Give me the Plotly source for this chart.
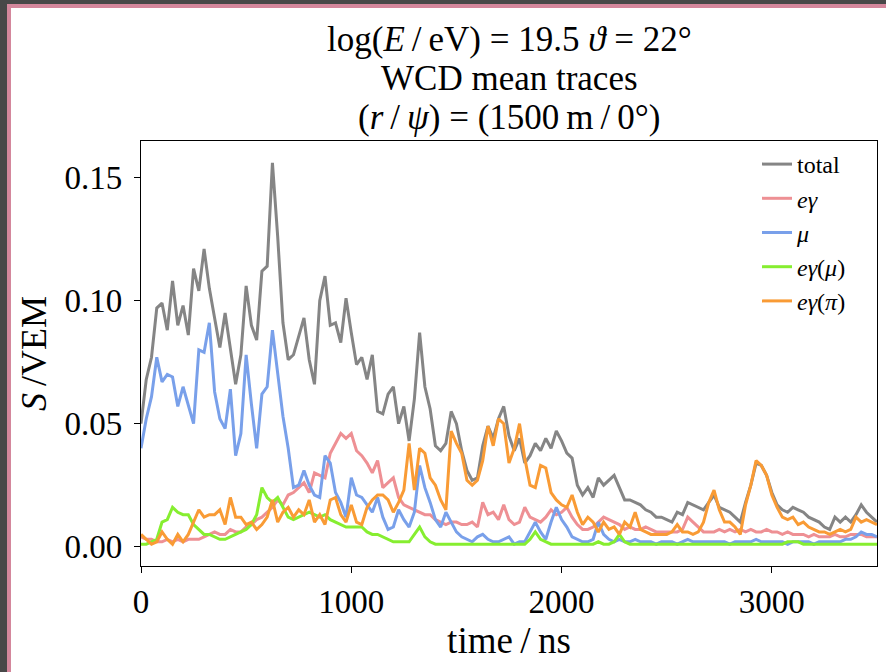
import plotly.graph_objects as go

# time grid (ns), 25 ns bins from 0 to 3500
time_ns = list(range(0, 3501, 25))

total = [
    0.050, 0.068, 0.077, 0.097, 0.099, 0.088, 0.108, 0.090, 0.098, 0.086,
    0.113, 0.104, 0.121, 0.105, 0.093, 0.081, 0.095, 0.080, 0.066, 0.078,
    0.106, 0.090, 0.084, 0.112, 0.114, 0.156, 0.126, 0.091, 0.076, 0.078,
    0.085, 0.093, 0.076, 0.066, 0.100, 0.110, 0.090, 0.091, 0.083, 0.101,
    0.087, 0.074, 0.077, 0.068, 0.078, 0.055, 0.054, 0.062, 0.065, 0.050,
    0.057, 0.043, 0.060, 0.087, 0.065, 0.056, 0.041, 0.039, 0.042, 0.055,
    0.050, 0.039, 0.031, 0.027, 0.028, 0.041, 0.049, 0.044, 0.052, 0.057,
    0.045, 0.039, 0.044, 0.034, 0.037, 0.042, 0.039, 0.044, 0.040, 0.047,
    0.043, 0.038, 0.036, 0.025, 0.021, 0.024, 0.020, 0.028, 0.025, 0.027,
    0.029, 0.024, 0.019, 0.019, 0.018, 0.017, 0.015, 0.014, 0.012, 0.012,
    0.011, 0.010, 0.014, 0.013, 0.018, 0.017, 0.016, 0.015, 0.018, 0.021,
    0.016, 0.015, 0.014, 0.012, 0.010, 0.018, 0.025, 0.034, 0.033, 0.029,
    0.022, 0.017, 0.015, 0.014, 0.016, 0.015, 0.014, 0.012, 0.011, 0.010,
    0.008, 0.007, 0.012, 0.010, 0.012, 0.010, 0.013, 0.017, 0.014, 0.012,
    0.010,
]

e_gamma = [
    0.004, 0.003, 0.003, 0.002, 0.002, 0.003, 0.002, 0.003, 0.002, 0.003,
    0.003, 0.003, 0.004, 0.005, 0.006, 0.005, 0.005, 0.007, 0.006, 0.006,
    0.008, 0.009, 0.011, 0.012, 0.014, 0.016, 0.019, 0.017, 0.021, 0.022,
    0.024, 0.026, 0.022, 0.030, 0.029, 0.028, 0.038, 0.042, 0.046, 0.044,
    0.046, 0.039, 0.037, 0.034, 0.030, 0.035, 0.024, 0.026, 0.028, 0.020,
    0.017, 0.016, 0.015, 0.014, 0.013, 0.013, 0.011, 0.010, 0.009, 0.010,
    0.010, 0.009, 0.009, 0.010, 0.008, 0.018, 0.013, 0.014, 0.011, 0.017,
    0.011, 0.009, 0.010, 0.016, 0.012, 0.011, 0.010, 0.012, 0.015, 0.013,
    0.014, 0.016, 0.012, 0.009, 0.007, 0.007, 0.008, 0.010, 0.012, 0.011,
    0.010, 0.009, 0.007, 0.008, 0.007, 0.007, 0.008, 0.007, 0.006, 0.006,
    0.006, 0.006, 0.006, 0.007, 0.012, 0.010, 0.008, 0.006, 0.006, 0.006,
    0.007, 0.006, 0.007, 0.006, 0.007, 0.006, 0.007, 0.006, 0.006, 0.007,
    0.006, 0.006, 0.005, 0.006, 0.005, 0.005, 0.005, 0.004, 0.005, 0.004,
    0.004, 0.004, 0.005, 0.004, 0.004, 0.005, 0.005, 0.005, 0.004, 0.004,
    0.004,
]

mu = [
    0.040, 0.052, 0.061, 0.077, 0.067, 0.070, 0.069, 0.057, 0.065, 0.057,
    0.050, 0.080, 0.079, 0.091, 0.063, 0.052, 0.048, 0.064, 0.037, 0.046,
    0.078, 0.058, 0.040, 0.062, 0.065, 0.088, 0.070, 0.053, 0.040, 0.024,
    0.025, 0.031, 0.025, 0.021, 0.020, 0.037, 0.034, 0.022, 0.018, 0.012,
    0.028, 0.021, 0.020, 0.017, 0.014, 0.020, 0.012, 0.007, 0.008, 0.015,
    0.011, 0.008, 0.014, 0.033, 0.024, 0.018, 0.011, 0.008, 0.014, 0.010,
    0.006, 0.004, 0.003, 0.002, 0.004, 0.005, 0.003, 0.002, 0.002, 0.003,
    0.004, 0.001, 0.002, 0.002, 0.006, 0.010, 0.006, 0.003, 0.010, 0.016,
    0.011, 0.008, 0.004, 0.003, 0.002, 0.002, 0.003, 0.010, 0.005, 0.003,
    0.002, 0.003, 0.002, 0.002, 0.003, 0.002, 0.002, 0.002, 0.001, 0.002,
    0.002, 0.002, 0.001, 0.002, 0.003, 0.002, 0.002, 0.002, 0.002, 0.002,
    0.002, 0.002, 0.001, 0.002, 0.002, 0.002, 0.002, 0.003, 0.002, 0.002,
    0.002, 0.002, 0.002, 0.001, 0.002, 0.002, 0.002, 0.002, 0.001, 0.002,
    0.002, 0.002, 0.002, 0.002, 0.003, 0.003, 0.004, 0.006, 0.005, 0.005,
    0.004,
]

e_gamma_mu = [
    0.001, 0.001, 0.002, 0.003, 0.010, 0.011, 0.016, 0.014, 0.013, 0.013,
    0.009, 0.007, 0.005, 0.005, 0.004, 0.003, 0.003, 0.004, 0.005, 0.006,
    0.007, 0.009, 0.013, 0.024, 0.020, 0.018, 0.020, 0.016, 0.012, 0.011,
    0.012, 0.013, 0.014, 0.013, 0.012, 0.013, 0.011, 0.010, 0.009, 0.008,
    0.008, 0.008, 0.008, 0.006, 0.005, 0.005, 0.004, 0.003, 0.002, 0.002,
    0.002, 0.002, 0.005, 0.008, 0.004, 0.002, 0.001, 0.001, 0.001, 0.001,
    0.001, 0.001, 0.001, 0.001, 0.001, 0.001, 0.001, 0.001, 0.001, 0.001,
    0.001, 0.001, 0.001, 0.001, 0.003, 0.006, 0.003, 0.002, 0.001, 0.001,
    0.001, 0.001, 0.001, 0.001, 0.001, 0.001, 0.001, 0.002, 0.001, 0.001,
    0.002, 0.005, 0.002, 0.001, 0.001, 0.001, 0.001, 0.001, 0.001, 0.001,
    0.001, 0.001, 0.001, 0.001, 0.001, 0.001, 0.001, 0.001, 0.001, 0.001,
    0.001, 0.001, 0.001, 0.001, 0.001, 0.001, 0.001, 0.001, 0.001, 0.001,
    0.001, 0.001, 0.001, 0.002, 0.002, 0.002, 0.001, 0.001, 0.001, 0.001,
    0.001, 0.001, 0.001, 0.001, 0.001, 0.001, 0.001, 0.001, 0.001, 0.001,
    0.001,
]

e_gamma_pi = [
    0.005, 0.003, 0.001, 0.002, 0.006, 0.003, 0.001, 0.005, 0.002, 0.005,
    0.010, 0.015, 0.012, 0.013, 0.013, 0.015, 0.009, 0.020, 0.012, 0.012,
    0.009, 0.010, 0.007, 0.009, 0.012, 0.019, 0.010, 0.014, 0.016, 0.012,
    0.015, 0.013, 0.019, 0.010, 0.013, 0.009, 0.019, 0.020, 0.013, 0.010,
    0.017, 0.010, 0.009, 0.016, 0.019, 0.021, 0.021, 0.019, 0.014, 0.018,
    0.023, 0.042, 0.023, 0.040, 0.038, 0.028, 0.025, 0.019, 0.015, 0.047,
    0.042, 0.038, 0.027, 0.025, 0.027, 0.035, 0.049, 0.041, 0.052, 0.050,
    0.034, 0.040, 0.050, 0.036, 0.025, 0.024, 0.033, 0.032, 0.022, 0.019,
    0.017, 0.016, 0.021, 0.014, 0.009, 0.012, 0.010, 0.006, 0.010, 0.007,
    0.008, 0.005, 0.010, 0.008, 0.014, 0.007, 0.006, 0.005, 0.005, 0.005,
    0.005, 0.006, 0.009, 0.006, 0.006, 0.005, 0.006, 0.010, 0.018, 0.023,
    0.015, 0.010, 0.010, 0.008, 0.005, 0.017, 0.025, 0.035, 0.033, 0.029,
    0.021, 0.016, 0.012, 0.011, 0.012, 0.009, 0.010, 0.008, 0.007, 0.006,
    0.006, 0.005, 0.006, 0.007, 0.006, 0.007, 0.012, 0.010, 0.011, 0.010,
    0.009,
]

series_names = ["total", "<i>eγ</i>", "<i>μ</i>", "<i>eγ</i>(<i>μ</i>)", "<i>eγ</i>(<i>π</i>)"]
series_values = [total, e_gamma, mu, e_gamma_mu, e_gamma_pi]
series_colors = ["#858585", "#ee9094", "#79a0ea", "#86ee30", "#f99b35"]

x_ticks = [0, 1000, 2000, 3000]
y_ticks = [0.00, 0.05, 0.10, 0.15]

title_lines = [
    "log(<i>E</i>\u2009/\u2009eV) = 19.5 <i>ϑ</i> = 22°",
    "WCD mean traces",
    "(<i>r</i>\u2009/\u2009<i>ψ</i>) = (1500\u2009m\u2009/\u20090°)",
]

FONT = "Liberation Serif"
W, H = 886, 672
ML, MR, MT, MB = 141, 9, 141, 106
PW, PH = W - ML - MR, H - MT - MB


def px_x(px):
    return (px - ML) / PW


def px_y(py):
    return (H - MB - py) / PH


fig = go.Figure()
for name, vals, col in zip(series_names, series_values, series_colors):
    fig.add_trace(go.Scatter(
        x=time_ns, y=vals, mode="lines", name=name,
        line=dict(color=col, width=3),
    ))

axis_common = dict(
    showline=True, linecolor="black", linewidth=1.3, mirror=True,
    ticks="outside", ticklen=6, tickwidth=1.2, tickcolor="black",
    showgrid=False, zeroline=False,
    tickfont=dict(family=FONT, size=33, color="black"),
)

fig.update_layout(
    width=W, height=H,
    margin=dict(l=ML, r=MR, t=MT, b=MB),
    paper_bgcolor="white", plot_bgcolor="white",
    font=dict(family=FONT, color="black"),
    showlegend=True,
    legend=dict(
        x=px_x(757), y=px_y(142), xanchor="left", yanchor="top",
        bgcolor="rgba(0,0,0,0)", borderwidth=0,
        font=dict(family=FONT, size=24, color="black"),
        tracegroupgap=0,
    ),
    xaxis=dict(
        range=[0, 3500], tickvals=x_ticks, tickformat="d",
        title=dict(text="time\u2009/\u2009ns", font=dict(family=FONT, size=37), standoff=4),
        **axis_common,
    ),
    yaxis=dict(
        range=[-0.00785, 0.1649], tickvals=y_ticks, tickformat=".2f",
        ticklabelstandoff=5,
        title=dict(text="<i>S</i>\u2009/VEM", font=dict(family=FONT, size=36), standoff=6),
        **axis_common,
    ),
)

title_y_px = [39, 79, 118]
for txt, py in zip(title_lines, title_y_px):
    fig.add_annotation(
        text=txt, xref="paper", yref="paper", x=px_x(509), y=px_y(py),
        xanchor="center", yanchor="middle", showarrow=False,
        font=dict(family=FONT, size=35, color="black"),
    )

# decorative frame on top and left edges
dark, pink = "#484848", "#d4879c"
frame = [
    (0, 0, 7, H, dark),
    (0, 0, W, 4, dark),
    (7, 4, 11, H, pink),
    (7, 4, W, 8, pink),
]
for x0, y0, x1, y1, c in frame:
    fig.add_shape(type="rect", xref="paper", yref="paper",
                  x0=px_x(x0), x1=px_x(x1), y0=px_y(y1), y1=px_y(y0),
                  fillcolor=c, line=dict(width=0), layer="above")

fig.write_html("out.html")
